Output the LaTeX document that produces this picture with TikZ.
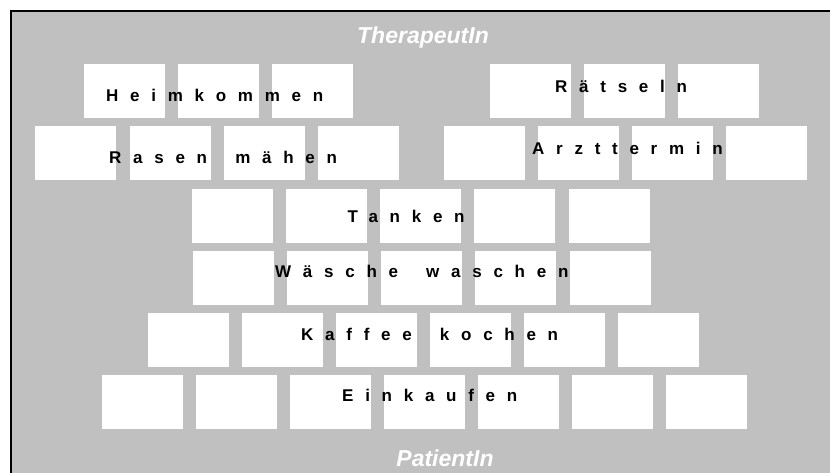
\documentclass[tikz,border=0pt]{standalone}
\usepackage{fontspec}
\setmainfont{Liberation Sans}
\newfontfamily\tilefont[LetterSpace=69]{Liberation Sans}
\usetikzlibrary{positioning}

\definecolor{panelgray}{RGB}{192,192,192}
\newcommand\wgap{\hspace{11.7pt}}

\begin{document}
\begin{tikzpicture}[x=1pt, y=-1pt,
  tile/.style={fill=white, minimum width=81pt, minimum height=54pt, anchor=north west, inner sep=0pt},
  word/.style={anchor=base west, inner sep=0pt, font=\tilefont\bfseries\fontsize{17}{20}\selectfont},
  role/.style={anchor=base, inner sep=0pt, text=white, font=\bfseries\itshape\fontsize{23}{27}\selectfont}
]
  \useasboundingbox (0,0) rectangle (830,472);
  \clip (0,0) rectangle (830,472);

  % panel
  \fill[panelgray] (11,11) rectangle (850,490);
  \draw[line width=2pt] (11,490) -- (11,11) -- (850,11);

  % tiles, row by row
  \foreach \x [count=\i] in {84,178,272,490,584,678}
    \node[tile] (r1t\i) at (\x,64) {};
  \foreach \x [count=\i] in {35,130,224,318,444,538,632,726}
    \node[tile] (r2t\i) at (\x,126) {};
  \foreach \x [count=\i] in {192,286,380,474,569}
    \node[tile] (r3t\i) at (\x,189) {};
  \foreach \x [count=\i] in {193,287,381,475,570}
    \node[tile] (r4t\i) at (\x,251) {};
  \foreach \x [count=\i] in {148,242,336,430,524,618}
    \node[tile] (r5t\i) at (\x,313) {};
  \foreach \x [count=\i] in {102,196,290,384,478,572,666}
    \node[tile] (r6t\i) at (\x,375) {};

  % activities
  \node[word] (heim)   at (106,101.7) {Heimkommen};
  \node[word] (raetsel) at (555,92.7)  {Rätseln};
  \node[word] (rasen)  at (109,163.3) {Rasen\wgap{} mähen};
  \node[word] (arzt)   at (532,154)   {Arzttermin};
  \node[word] (tanken) at (347.5,222.3) {Tanken};
  \node[word] (waesche) at (275,277.7) {Wäsche\wgap{} waschen};
  \node[word] (kaffee) at (301,340)   {Kaffee\wgap{} kochen};
  \node[word] (einkauf) at (342,401.7) {Einkaufen};

  % roles
  \node[role] (ther) at (423,43.3) {TherapeutIn};
  \node[role] (pat)  at (445,466)  {PatientIn};
\end{tikzpicture}
\end{document}
